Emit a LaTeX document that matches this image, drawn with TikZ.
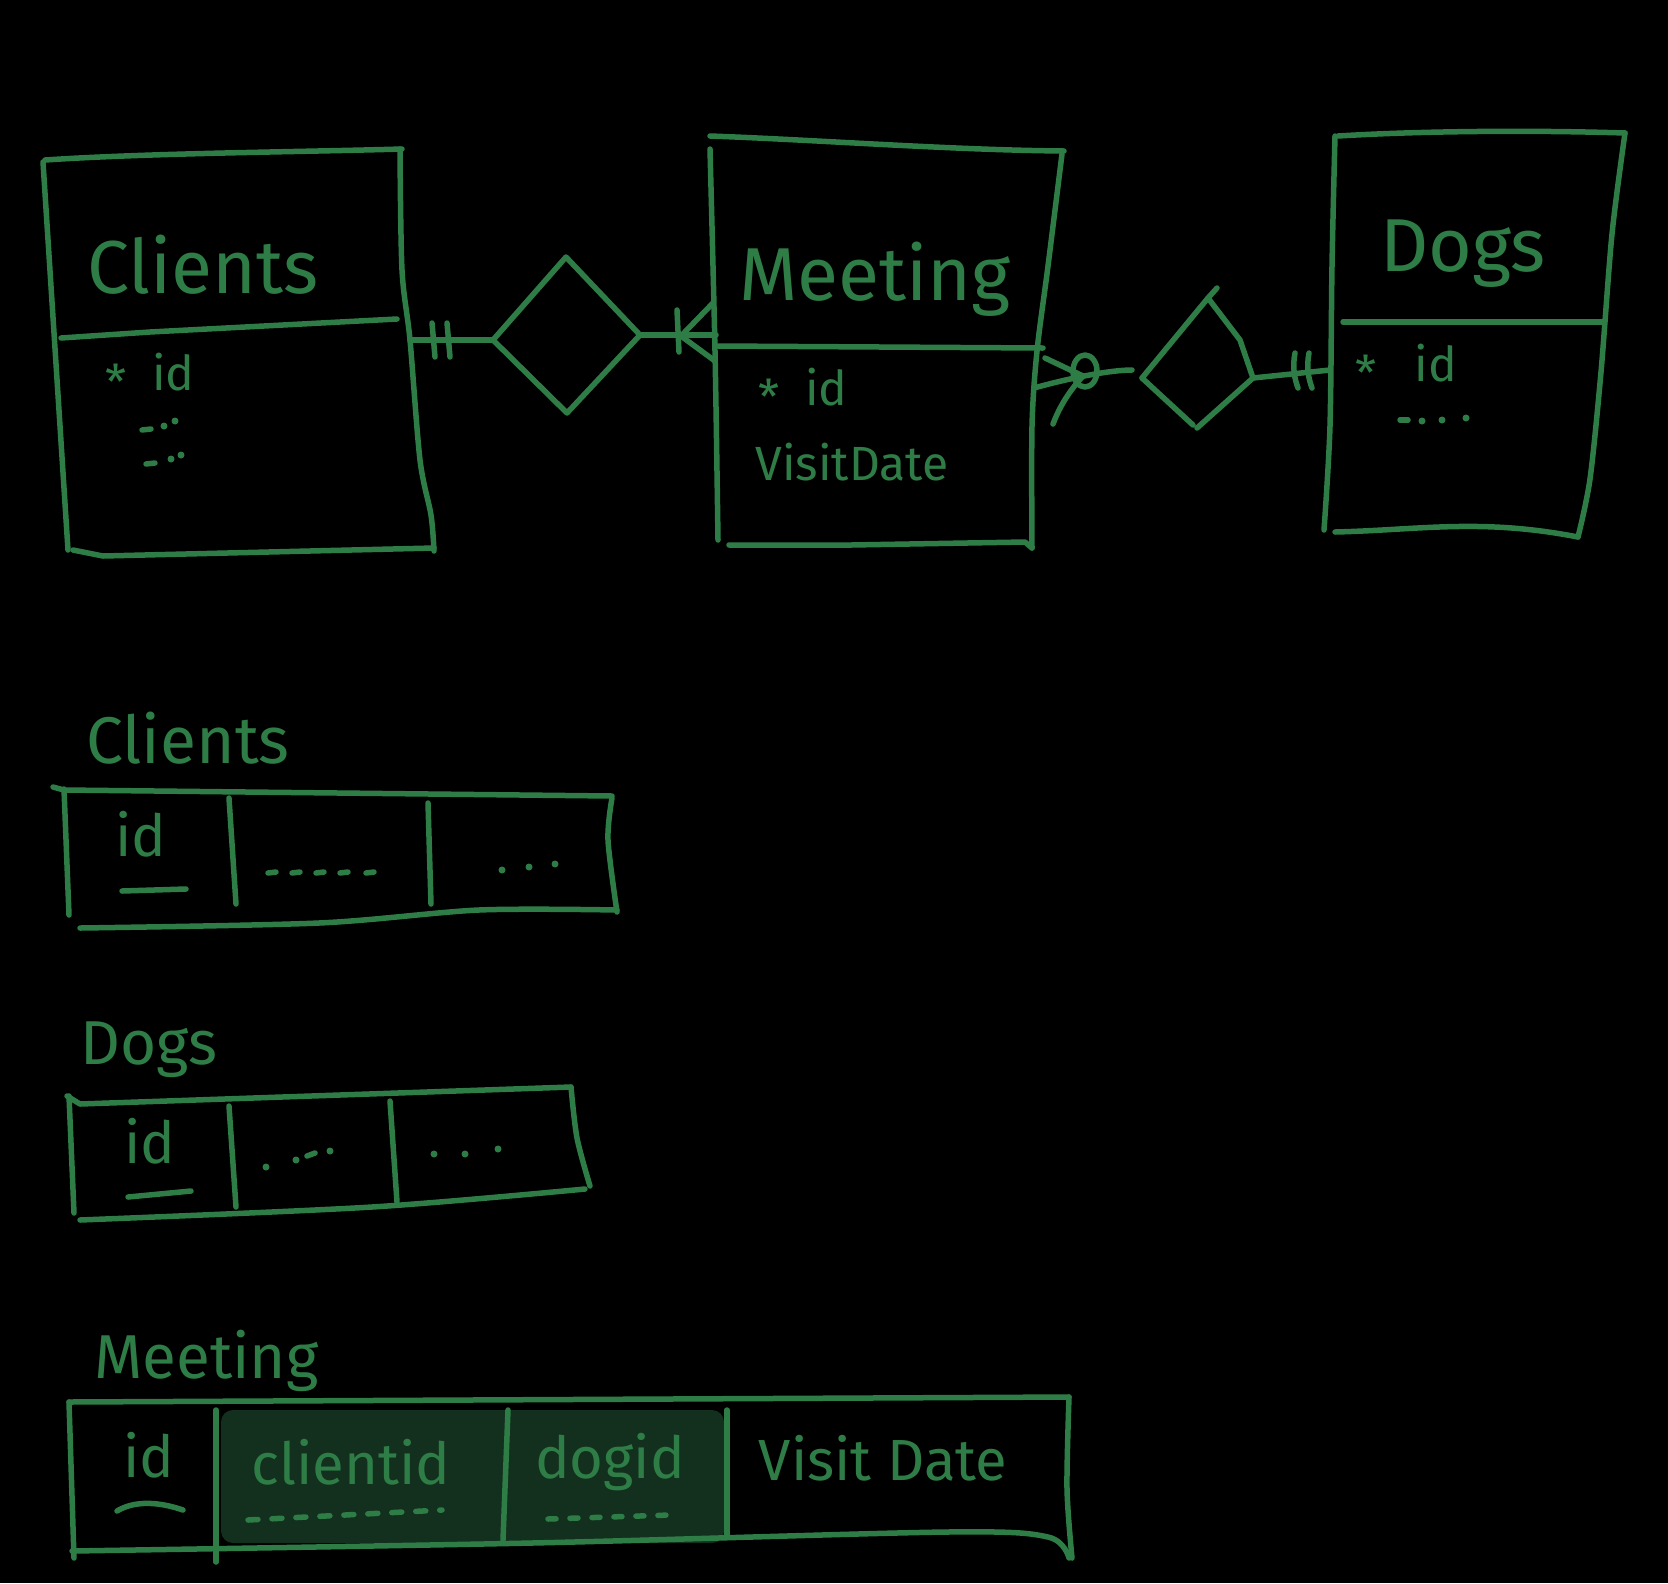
\documentclass[tikz,border=0pt]{standalone}
\usepackage{fontspec}
\setmainfont{Fira Sans}
\definecolor{inkc}{HTML}{2F7D46}
\definecolor{cellc}{HTML}{13301E}
\begin{document}
\begin{tikzpicture}[x=1pt,y=-1pt,
  ink/.style={draw=inkc,line width=5.5pt,line cap=round,line join=round},
  title/.style={text=inkc,inner sep=0pt,anchor=base west,font=\fontsize{75}{75}\selectfont},
  label/.style={text=inkc,inner sep=0pt,anchor=base west,font=\fontsize{62}{62}\selectfont},
  attr/.style={text=inkc,inner sep=0pt,font=\fontsize{48}{48}\selectfont},
  cell/.style={text=inkc,inner sep=0pt,font=\fontsize{58}{58}\selectfont},
  dot/.style={inkc,line width=5.5pt,line cap=round}]
\fill[black] (0,0) rectangle (1668,1583);
\useasboundingbox (0,0) rectangle (1668,1583);

% ---------- entity: Clients ----------
\draw[ink] (45,160) .. controls (150,153) and (300,152) .. (402,149);
\draw[ink] (43,162) -- (68,550);
\draw[ink] plot[smooth] coordinates {(400,149) (402,270) (410,340) (420,460) (431,515) (434,551)};
\draw[ink] (73,550) -- (103,556) -- (434,548);
\draw[ink] (61,338) -- (150,332) -- (397,319);
\node[title] (tclients) at (87,293) {Clients};
\node[attr] (aclients) at (150,376) {\raisebox{-0.35ex}{*}\ \ id};
\draw[ink] (142,430) -- (151,429);
\fill[inkc] (164,426) circle (3.5pt) (175,421) circle (3.5pt);
\draw[ink] (146,464) -- (155,463);
\fill[inkc] (171,459) circle (3.5pt) (181,455) circle (3.5pt);
\coordinate (cR) at (410,340);

% ---------- entity: Meeting ----------
\draw[ink] (710,136) .. controls (820,140) and (950,150) .. (1064,151);
\draw[ink] plot[smooth] coordinates {(710,149) (715,351) (718,540)};
\draw[ink] plot[smooth] coordinates {(1062,154) (1048,266) (1037,351) (1032,426) (1032,548)};
\draw[ink] (729,545) -- (851,545) -- (1025,542) -- (1032,548);
\draw[ink] (718,346) -- (1043,348);
\node[title] (tmeeting) at (739,300) {Meeting};
\node[attr] (ameetid) at (803,391) {\raisebox{-0.35ex}{*}\ \ id};
\node[attr] (ameetvd) at (852,462) {VisitDate};
\coordinate (mL) at (716,335);
\coordinate (mR) at (1034,388);

% ---------- entity: Dogs ----------
\draw[ink] (1338,136) .. controls (1420,131) and (1530,130) .. (1625,133);
\draw[ink] plot[smooth] coordinates {(1625,133) (1612,234) (1601,372) (1590,479) (1578,537)};
\draw[ink] plot[smooth] coordinates {(1335,136) (1332,266) (1330,426) (1324,530)};
\draw[ink] (1335,532) .. controls (1420,530) and (1480,518) .. (1578,537);
\draw[ink] (1343,322) -- (1604,322);
\node[title] (tdogs) at (1380,271) {Dogs};
\node[attr] (adogs) at (1406,367) {\raisebox{-0.35ex}{*}\ \ \ id};
\draw[ink] (1400,420) -- (1408,420);
\fill[inkc] (1422,421) circle (3.5pt) (1442,420) circle (3.5pt) (1466,418) circle (3.5pt);
\coordinate (dL) at (1330,370);

% ---------- relationship 1 ----------
\coordinate (r1l) at (493,340);
\coordinate (r1t) at (566,257);
\coordinate (r1r) at (640,335);
\coordinate (r1b) at (567,413);
\draw[ink] (r1l) -- (r1t) -- (r1r) -- (r1b) -- cycle;
\draw[ink] (cR) -- (r1l);
\draw[ink] (432,323) -- (435,357);
\draw[ink] (447,323) -- (450,357);
\draw[ink] (r1r) -- (mL);
\draw[ink] (677,310) -- (679,352);
\draw[ink] (681,336) -- (713,303);
\draw[ink] (681,336) -- (715,361);

% ---------- relationship 2 ----------
\coordinate (r2l) at (1142,378);
\coordinate (r2t) at (1208,298);
\coordinate (r2r) at (1253,378);
\coordinate (r2b) at (1197,428);
\draw[ink] (r2l) -- (r2t) -- (1240,340) -- (r2r) -- (r2b);
\draw[ink] (r2t) -- (1217,288);
\draw[ink] (r2l) -- (1193,425);
\draw[ink] (mR) .. controls (1070,378) and (1110,370) .. (1132,370);
\draw[ink] (1085,371) ellipse (12pt and 16pt);
\draw[ink] (1045,358) -- (1083,376);
\draw[ink] (1053,424) .. controls (1062,400) and (1075,385) .. (1083,376);
\draw[ink] (r2r) -- (dL);
\draw[ink] (1295,353) .. controls (1292,368) and (1295,380) .. (1298,388);
\draw[ink] (1309,353) .. controls (1306,368) and (1309,380) .. (1312,388);

% ---------- relation: Clients ----------
\node[label,font=\fontsize{66}{66}\selectfont] (lclients) at (86,763) {Clients};
\draw[ink] (53,787) -- (64,790) -- (612,796);
\draw[ink] (64,789) -- (69,915);
\draw[ink] plot[smooth] coordinates {(612,798) (608,840) (617,912)};
\draw[ink] plot[smooth] coordinates {(80,928) (319,923) (479,910) (617,910)};
\draw[ink] (229,798) -- (236,904);
\draw[ink] (428,803) -- (431,904);
\node[cell] (cclid) at (141,834) {id};
\draw[ink] (122,891) -- (186,889);
\foreach \xx in {268,292,316,340,366} \draw[ink] (\xx,873) -- (\xx+8,872);
\fill[inkc] (502,870) circle (3.5pt) (529,867) circle (3.5pt) (555,864) circle (3.5pt);

% ---------- relation: Dogs ----------
\node[label] (ldogs) at (80,1064) {Dogs};
\draw[ink] (67,1096) -- (80,1104) -- (571,1087);
\draw[ink] (69,1096) -- (74,1213);
\draw[ink] plot[smooth] coordinates {(571,1087) (577,1138) (590,1186)};
\draw[ink] plot[smooth] coordinates {(80,1220) (372,1207) (585,1189)};
\draw[ink] (229,1106) -- (236,1207);
\draw[ink] (390,1101) -- (397,1202);
\node[cell] (cdgid) at (150,1141) {id};
\draw[ink] (128,1197) -- (191,1191);
\fill[inkc] (266,1167) circle (3.5pt) (296,1160) circle (3.5pt) (330,1151) circle (3.5pt);
\draw[ink] (307,1156) -- (315,1153);
\fill[inkc] (434,1154) circle (3.5pt) (465,1154) circle (3.5pt) (498,1149) circle (3.5pt);

% ---------- relation: Meeting ----------
\fill[cellc,rounded corners=12pt] (221,1410) rectangle (724,1543);
\node[label] (lmeeting) at (94,1378) {Meeting};
\draw[ink] (69,1402) -- (1069,1397);
\draw[ink] (69,1402) -- (74,1558);
\draw[ink] plot[smooth] coordinates {(1069,1397) (1067,1489) (1072,1558)};
\draw[ink] plot[smooth] coordinates {(72,1551) (532,1543) (947,1532) (1048,1537) (1069,1558)};
\draw[ink] (216,1410) -- (216,1562);
\draw[ink] (508,1410) -- (503,1540);
\draw[ink] (727,1410) -- (727,1537);
\node[cell] (cmid) at (149,1455) {id};
\draw[ink] (117,1511) .. controls (135,1500) and (160,1502) .. (183,1510);
\node[cell] (cmcl) at (351,1462) {clientid};
\draw[ink,dash pattern=on 10pt off 14pt] (248,1520) -- (442,1510);
\node[cell] (cmdg) at (610,1462) {dogid};
\draw[ink,dash pattern=on 8pt off 14pt] (548,1519) -- (670,1515);
\node[cell] (cmvd) at (883,1458) {Visit Date};
\end{tikzpicture}
\end{document}
